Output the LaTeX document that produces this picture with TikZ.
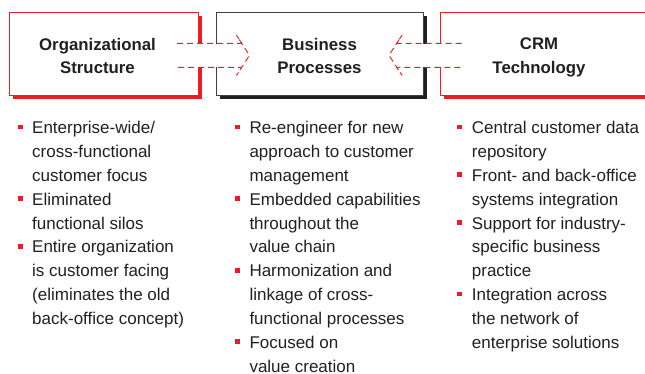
\documentclass[tikz,border=0pt]{standalone}
\usepackage{fontspec}
\setmainfont{Liberation Sans}
\usetikzlibrary{calc,shadows,positioning}
\definecolor{crmred}{RGB}{237,28,36}
\definecolor{ink}{RGB}{35,31,32}
\newcommand{\bul}{\llap{\textcolor{crmred}{\rule[4.3pt]{4.8pt}{4.8pt}}\hspace{9.7pt}}}

\begin{document}
\begin{tikzpicture}[x=1pt,y=-1pt,line join=round,
  box/.style 2 args={draw=#1,line width=0.8pt,fill=white,minimum height=83pt,inner sep=0pt,outer sep=0pt,
    drop shadow={shadow xshift=4pt,shadow yshift=-4pt,fill=#2,opacity=1}},
  title/.style={font=\fontsize{16.8}{23.3}\selectfont\bfseries,text=ink,align=center},
  items/.style={font=\fontsize{17}{23.85}\selectfont,text=ink,align=left,anchor=north west,inner sep=0pt},
  hollow/.style={draw=crmred,line width=0.9pt,dash pattern=on 6pt off 4pt}]
\useasboundingbox (0,0) rectangle (645,373);
\clip (0,0) rectangle (645,373);
\node[box={crmred}{crmred},minimum width=189pt] (org) at (103.5,53.5) {};
\node[box={black!75}{ink},minimum width=207pt] (proc) at (319.5,53.5) {};
\node[box={crmred}{crmred},minimum width=230pt,anchor=west] (crm) at (440,53.5) {};
\node[title] (orgt) at ($(org.center)+(-6,2.5)$) {Organizational\\Structure};
\node[title] (proct) at ($(proc.center)+(0,2.5)$) {Business\\Processes};
\node[title] (crmt) at ($(crm.west)+(99,4)$) {CRM\\Technology};
\coordinate (l) at ($(org.east)!.5!(proc.west)+(0,1.8)$);
\coordinate (r) at ($(proc.east)!.5!(crm.west)+(0,1.8)$);
\foreach \c/\s in {l/1,r/-1}{
  \fill[white] ($(\c)+(-11,-11.5)$) rectangle ($(\c)+(11,11.5)$);
  \draw[hollow] ($(\c)+(-30*\s,-12)$) -- ($(\c)+(35*\s,-12)$) -- ($(\c)+(29.5*\s,-20)$) -- ($(\c)+(42.5*\s,0)$)
    -- ($(\c)+(29.5*\s,20)$) -- ($(\c)+(35*\s,12)$) -- ($(\c)+(-30*\s,12)$);
}
\node[items] (orgl) at (32,121.2) {\bul Enterprise-wide/\\cross-functional\\customer focus\\\bul Eliminated\\functional silos\\\bul Entire organization\\is customer facing\\(eliminates the old\\back-office concept)};
\node[items] (procl) at (249.3,121.2) {\bul Re-engineer for new\\approach to customer\\management\\\bul Embedded capabilities\\throughout the\\value chain\\\bul Harmonization and\\linkage of cross-\\functional processes\\\bul Focused on\\value creation};
\node[items] (crml) at (471.7,121.2) {\bul Central customer data\\repository\\\bul Front- and back-office\\systems integration\\\bul Support for industry-\\specific business\\practice\\\bul Integration across\\the network of\\enterprise solutions};
\end{tikzpicture}
\end{document}
